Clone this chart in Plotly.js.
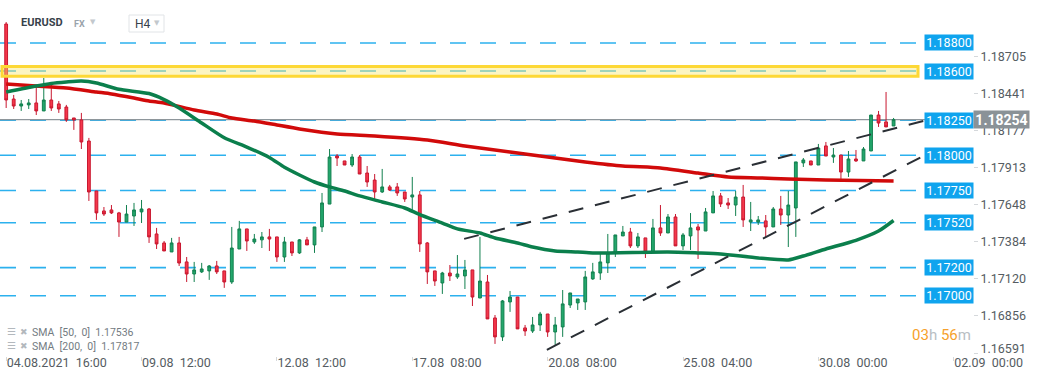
<!DOCTYPE html>
<html><head><meta charset="utf-8">
<script src="https://cdn.plot.ly/plotly-3.0.1.min.js"></script>
<style>html,body{margin:0;padding:0;background:#fff;overflow:hidden}#chart{width:1041px;height:379px}</style>
</head><body><div id="chart"></div>
<script>
// ---- data (EURUSD, H4) ----
const openP = [1.18935,1.18401,1.18351,1.18359,1.18373,1.18316,1.18394,1.18366,1.18344,1.18266,
1.18252,1.18102,1.17746,1.17604,1.17611,1.17590,1.17525,1.17568,1.17597,1.17618,
1.17440,1.17376,1.17312,1.17376,1.17241,1.17155,1.17170,1.17177,1.17212,1.17177,
1.17098,1.17333,1.17476,1.17383,1.17398,1.17419,1.17419,1.17276,1.17383,1.17305,
1.17398,1.17362,1.17490,1.17653,1.17995,1.17960,1.17931,1.17988,1.17874,1.17824,
1.17739,1.17775,1.17775,1.17739,1.17703,1.17718,1.17376,1.17177,1.17091,1.17162,
1.17134,1.17141,1.17184,1.16984,1.17098,1.16842,1.16707,1.16956,1.16991,1.16771,
1.16749,1.16792,1.16870,1.16742,1.16778,1.16934,1.16949,1.16956,1.17120,1.17162,
1.17234,1.17305,1.17426,1.17454,1.17355,1.17412,1.17312,1.17483,1.17447,1.17561,
1.17355,1.17426,1.17490,1.17461,1.17590,1.17711,1.17661,1.17646,1.17703,1.17525,
1.17525,1.17533,1.17490,1.17618,1.17575,1.17625,1.17946,1.17960,1.17931,1.18067,
1.17988,1.18002,1.17881,1.17974,1.17960,1.18031,1.18287,1.18238,1.18209];
const highP = [1.18949,1.18430,1.18394,1.18401,1.18501,1.18551,1.18508,1.18387,1.18359,1.18266,
1.18302,1.18124,1.17746,1.17632,1.17646,1.17597,1.17646,1.17661,1.17682,1.17625,
1.17483,1.17390,1.17412,1.17419,1.17276,1.17241,1.17234,1.17219,1.17248,1.17177,
1.17490,1.17533,1.17476,1.17440,1.17454,1.17476,1.17419,1.17419,1.17383,1.17404,
1.17419,1.17490,1.17732,1.18045,1.18009,1.17960,1.18009,1.18002,1.17924,1.17867,
1.17903,1.17789,1.17803,1.17739,1.17846,1.17746,1.17383,1.17177,1.17170,1.17219,
1.17290,1.17255,1.17184,1.17419,1.17148,1.16863,1.16970,1.17034,1.16991,1.16792,
1.16849,1.16885,1.16870,1.16849,1.17041,1.17020,1.16977,1.17177,1.17234,1.17312,
1.17440,1.17433,1.17497,1.17483,1.17447,1.17412,1.17547,1.17646,1.17582,1.17582,
1.17447,1.17589,1.17511,1.17625,1.17746,1.17732,1.17696,1.17746,1.17789,1.17668,
1.17568,1.17575,1.17632,1.17711,1.17746,1.17953,1.17981,1.17960,1.18081,1.18095,
1.18052,1.18002,1.18031,1.18038,1.18059,1.18287,1.18316,1.18451,1.18266];
const lowP = [1.18337,1.18330,1.18316,1.18330,1.18287,1.18316,1.18316,1.18302,1.18238,1.18181,
1.18045,1.17675,1.17540,1.17568,1.17582,1.17419,1.17525,1.17497,1.17518,1.17376,
1.17333,1.17319,1.17312,1.17212,1.17098,1.17098,1.17162,1.17113,1.17155,1.17056,
1.17084,1.17333,1.17319,1.17369,1.17340,1.17319,1.17241,1.17241,1.17283,1.17298,
1.17362,1.17305,1.17454,1.17653,1.17924,1.17931,1.17917,1.17867,1.17775,1.17689,
1.17732,1.17746,1.17711,1.17668,1.17611,1.17312,1.17084,1.17070,1.17013,1.17105,
1.17120,1.17048,1.16927,1.16984,1.16835,1.16657,1.16678,1.16885,1.16764,1.16714,
1.16735,1.16749,1.16707,1.16650,1.16707,1.16913,1.16899,1.16899,1.17113,1.17113,
1.17162,1.17276,1.17426,1.17340,1.17340,1.17269,1.17312,1.17426,1.17447,1.17355,
1.17326,1.17326,1.17262,1.17461,1.17590,1.17632,1.17618,1.17568,1.17490,1.17461,
1.17504,1.17419,1.17490,1.17504,1.17347,1.17419,1.17917,1.17931,1.17931,1.17995,
1.17946,1.17832,1.17846,1.17953,1.17960,1.18031,1.18202,1.18202,1.18209];
const closeP = [1.18394,1.18351,1.18366,1.18373,1.18316,1.18394,1.18337,1.18330,1.18252,1.18252,
1.18095,1.17739,1.17590,1.17582,1.17590,1.17525,1.17582,1.17611,1.17618,1.17419,
1.17369,1.17319,1.17376,1.17233,1.17155,1.17184,1.17191,1.17212,1.17170,1.17098,
1.17340,1.17476,1.17390,1.17404,1.17419,1.17404,1.17276,1.17383,1.17305,1.17398,
1.17362,1.17490,1.17661,1.17988,1.17981,1.17931,1.17988,1.17867,1.17810,1.17739,
1.17775,1.17753,1.17732,1.17689,1.17718,1.17369,1.17170,1.17105,1.17162,1.17141,
1.17155,1.17184,1.16991,1.17105,1.16835,1.16707,1.16963,1.16991,1.16764,1.16749,
1.16792,1.16870,1.16742,1.16792,1.16942,1.17020,1.16977,1.17134,1.17170,1.17241,
1.17305,1.17433,1.17454,1.17355,1.17419,1.17312,1.17483,1.17447,1.17561,1.17355,
1.17433,1.17483,1.17468,1.17597,1.17711,1.17654,1.17646,1.17703,1.17540,1.17540,
1.17540,1.17490,1.17618,1.17575,1.17646,1.17953,1.17967,1.17931,1.18052,1.17995,
1.18002,1.17881,1.17974,1.17960,1.18045,1.18287,1.18230,1.18202,1.18254];

// SMA readings at bar indices
const sma50Bars = [0,4,6,8,10,12,15,19,21,23,26,29,32,35,37,39,41,43,45,47,50,53,55,58,60,63,65,68,70,73,76,78,88,92,95,100,104,106,109,113,116,118];
const sma50Vals = [1.18451,1.18494,1.18512,1.18522,1.18529,1.18515,1.18470,1.18440,1.18397,1.18337,1.18230,1.18125,1.18059,1.17985,1.17915,1.17860,1.17810,1.17775,1.17746,1.17711,1.17668,1.17625,1.17578,1.17518,1.17476,1.17447,1.17411,1.17376,1.17347,1.17319,1.17312,1.17305,1.17312,1.17305,1.17298,1.17269,1.17255,1.17283,1.17333,1.17395,1.17461,1.17536];
const sma200Bars = [0,4,8,12,14,17,19,21,25,28,30,33,36,39,44,49,56,61,67,72,77,82,87,92,96,100,104,109,118];
const sma200Vals = [1.18508,1.18494,1.18480,1.18451,1.18437,1.18408,1.18387,1.18373,1.18323,1.18294,1.18266,1.18244,1.18216,1.18188,1.18152,1.18138,1.18109,1.18067,1.18024,1.17988,1.17953,1.17924,1.17910,1.17874,1.17846,1.17839,1.17832,1.17824,1.17817];

// horizontal levels and zone
const levels = [1.18800,1.18600,1.18250,1.18000,1.17750,1.17520,1.17200,1.17000];
const levelLabels = ['1.18800','1.18600','1.18250','1.18000','1.17750','1.17520','1.17200','1.17000'];
const zone = [1.18563, 1.18633];
const lastPrice = 1.18254;
const lastPriceLabel = '1.18254';

// trend lines (bar index, price)
const trendUpperX = [60.9, 123.5];
const trendUpperY = [1.17405, 1.18266];
const trendLowerX = [71.9, 123.5];
const trendLowerY = [1.16615, 1.18038];

// axis ticks
const xTickBars = [0,18,36,54,72,90,108,126];
const xTickText = ['04.08.2021\u00a0\u00a016:00','09.08\u00a0\u00a012:00','12.08\u00a0\u00a012:00','17.08\u00a0\u00a008:00','20.08\u00a0\u00a008:00','25.08\u00a0\u00a004:00','30.08\u00a0\u00a000:00','02.09\u00a0\u00a000:00'];
const yTickVals = [1.18705,1.18441,1.18177,1.17913,1.17648,1.17384,1.17120,1.16856];
const yTickText = ['1.18705','1.18441','1.18177','1.17913','1.17648','1.17384','1.17120','1.16856'];
const yLastTickVal = [1.16591];
const yLastTickText = ['1.16591'];

const barIdx = openP.map((_, i) => i);

// ---- layout constants (pixels) ----
const W = 1041, H = 379, ML = 0, MR = 68, MT = 0, MB = 23;
const PW = W - ML - MR, PH = H - MT - MB;
const px = x => x / PW;            // paper x from px
const py = y => (PH - y) / PH;     // paper y from px (top-down)
const Y_RANGE = [1.16571, 1.19106];

const traces = [
  {
    type: 'candlestick', x: barIdx, open: openP, high: highP, low: lowP, close: closeP,
    increasing: {line: {color: '#12804f', width: 1}, fillcolor: '#23a76c'},
    decreasing: {line: {color: '#c8172f', width: 1}, fillcolor: '#f5374b'},
    whiskerwidth: 0, hoverinfo: 'skip', showlegend: false
  },
  {type: 'scatter', mode: 'lines', x: sma200Bars, y: sma200Vals, line: {color: '#d10a0a', width: 3.5, shape: 'spline', smoothing: 0.6}, hoverinfo: 'skip', showlegend: false},
  {type: 'scatter', mode: 'lines', x: sma50Bars, y: sma50Vals, line: {color: '#0b7f4c', width: 3.5, shape: 'spline', smoothing: 0.6}, hoverinfo: 'skip', showlegend: false},
  {type: 'scatter', mode: 'lines', x: trendUpperX, y: trendUpperY, line: {color: '#2a2f35', width: 2, dash: '15px,12px'}, hoverinfo: 'skip', showlegend: false},
  {type: 'scatter', mode: 'lines', x: trendLowerX, y: trendLowerY, line: {color: '#2a2f35', width: 2, dash: '15px,12px'}, hoverinfo: 'skip', showlegend: false},
  {type: 'scatter', mode: 'markers', x: [], y: [], yaxis: 'y2', hoverinfo: 'skip', showlegend: false}
];

const shapes = [];
levels.forEach(v => shapes.push({
  type: 'line', xref: 'paper', yref: 'y', x0: 0, x1: px(917), y0: v, y1: v,
  line: {color: '#2cb1ee', width: 1.6, dash: '16px,14px'}, layer: 'below'
}));
shapes.push({type: 'line', xref: 'paper', yref: 'y', x0: 0, x1: 1, y0: lastPrice, y1: lastPrice,
  line: {color: '#8e969b', width: 1.2}, layer: 'below'});
shapes.push({type: 'rect', xref: 'paper', yref: 'y', x0: px(2), x1: px(918), y0: zone[0], y1: zone[1],
  line: {color: '#fdd835', width: 3}, fillcolor: 'rgba(247,230,110,0.42)', layer: 'above'});
// H4 box
shapes.push({type: 'rect', xref: 'paper', yref: 'paper', x0: px(129), x1: px(164), y0: py(32), y1: py(15),
  line: {color: '#e1e4e7', width: 1}, fillcolor: 'rgba(255,255,255,0)', layer: 'above'});

const annotations = [];
levels.forEach((v, i) => annotations.push({
  xref: 'paper', yref: 'y', x: px(949), y: v, text: levelLabels[i], showarrow: false,
  width: 48, height: 15, bgcolor: '#0fa4ee', borderpad: 0,
  font: {family: 'Roboto', size: 12.5, color: '#ffffff'}, xanchor: 'center', yanchor: 'middle'
}));
annotations.push({xref: 'paper', yref: 'y', x: px(1001), y: lastPrice, text: '<b>' + lastPriceLabel + '</b>', showarrow: false,
  width: 55, height: 17, bgcolor: '#8a9297', borderpad: 0,
  font: {family: 'Roboto', size: 14, color: '#ffffff'}, xanchor: 'center', yanchor: 'middle'});
// header
annotations.push({xref: 'paper', yref: 'paper', x: px(19), y: py(23), text: '<b>EURUSD</b>', showarrow: false, xanchor: 'left', yanchor: 'middle',
  font: {family: 'Roboto', size: 11, color: '#37424b'}});
annotations.push({xref: 'paper', yref: 'paper', x: px(72), y: py(23.5), text: '<b>FX</b>', showarrow: false, xanchor: 'left', yanchor: 'middle',
  font: {family: 'Roboto', size: 9, color: '#9aa3ab'}});
annotations.push({xref: 'paper', yref: 'paper', x: px(88), y: py(21.5), text: '▼', showarrow: false, xanchor: 'left', yanchor: 'middle',
  font: {family: 'DejaVu Sans', size: 7, color: '#c3c8cd'}});
annotations.push({xref: 'paper', yref: 'paper', x: px(133), y: py(23.5), text: 'H4', showarrow: false, xanchor: 'left', yanchor: 'middle',
  font: {family: 'Roboto', size: 12, color: '#37424b'}});
annotations.push({xref: 'paper', yref: 'paper', x: px(152), y: py(23), text: '▼', showarrow: false, xanchor: 'left', yanchor: 'middle',
  font: {family: 'DejaVu Sans', size: 7, color: '#c3c8cd'}});
// indicator legend
annotations.push({xref: 'paper', yref: 'paper', x: px(5), y: py(331.5), text: '☰', showarrow: false, xanchor: 'left', yanchor: 'middle',
  font: {family: 'DejaVu Sans', size: 10, color: '#b3b8bd'}});
annotations.push({xref: 'paper', yref: 'paper', x: px(18), y: py(331.5), text: '✖', showarrow: false, xanchor: 'left', yanchor: 'middle',
  font: {family: 'DejaVu Sans', size: 9, color: '#b3b8bd'}});
annotations.push({xref: 'paper', yref: 'paper', x: px(30), y: py(332), text: 'SMA\u00a0\u00a0[50,\u00a0\u00a00]\u00a0\u00a01.17536', showarrow: false, xanchor: 'left', yanchor: 'middle',
  font: {family: 'Roboto', size: 10.5, color: '#737b82'}});
annotations.push({xref: 'paper', yref: 'paper', x: px(5), y: py(345.5), text: '☰', showarrow: false, xanchor: 'left', yanchor: 'middle',
  font: {family: 'DejaVu Sans', size: 10, color: '#b3b8bd'}});
annotations.push({xref: 'paper', yref: 'paper', x: px(18), y: py(345.5), text: '✖', showarrow: false, xanchor: 'left', yanchor: 'middle',
  font: {family: 'DejaVu Sans', size: 9, color: '#b3b8bd'}});
annotations.push({xref: 'paper', yref: 'paper', x: px(30), y: py(346), text: 'SMA\u00a0\u00a0[200,\u00a0\u00a00]\u00a0\u00a01.17817', showarrow: false, xanchor: 'left', yanchor: 'middle',
  font: {family: 'Roboto', size: 10.5, color: '#737b82'}});
// countdown
annotations.push({xref: 'paper', yref: 'paper', x: px(973), y: py(335), showarrow: false, xanchor: 'right', yanchor: 'middle',
  text: '<span style="color:#f6a12c">03</span><span style="color:#b8bec3">h</span> <span style="color:#f6a12c">56</span><span style="color:#b8bec3">m</span>',
  font: {family: 'Roboto', size: 15, color: '#f6a12c'}});

const yTickStyle = {
  showgrid: false, zeroline: false, showline: false,
  ticks: 'outside', ticklen: 4, tickcolor: '#d5d8db', tickwidth: 1,
  tickfont: {family: 'Roboto', size: 12.5, color: '#555c62'}
};

const layout = {
  width: W, height: H,
  margin: {l: ML, r: MR, t: MT, b: MB, pad: 0},
  paper_bgcolor: '#ffffff', plot_bgcolor: '#ffffff',
  showlegend: false, hovermode: false, boxgap: 0.47,
  xaxis: {
    type: 'linear', range: [-0.82, 128.56], rangeslider: {visible: false},
    showgrid: false, zeroline: false, showline: false,
    tickmode: 'array', tickvals: xTickBars, ticktext: xTickText,
    ticks: 'outside', ticklen: 4, tickcolor: '#d5d8db', tickwidth: 1,
    ticklabelposition: 'outside right', ticklabelstandoff: -5,
    tickfont: {family: 'Roboto', size: 12.5, color: '#555c62'}
  },
  yaxis: Object.assign({side: 'right', range: Y_RANGE, tickmode: 'array', tickvals: yTickVals, ticktext: yTickText}, yTickStyle),
  yaxis2: Object.assign({side: 'right', overlaying: 'y', range: Y_RANGE, tickmode: 'array', tickvals: yLastTickVal, ticktext: yLastTickText,
    ticklabelshift: -5}, yTickStyle),
  shapes: shapes, annotations: annotations
};

Plotly.newPlot('chart', traces, layout, {staticPlot: true, displayModeBar: false});
</script>
</body></html>
